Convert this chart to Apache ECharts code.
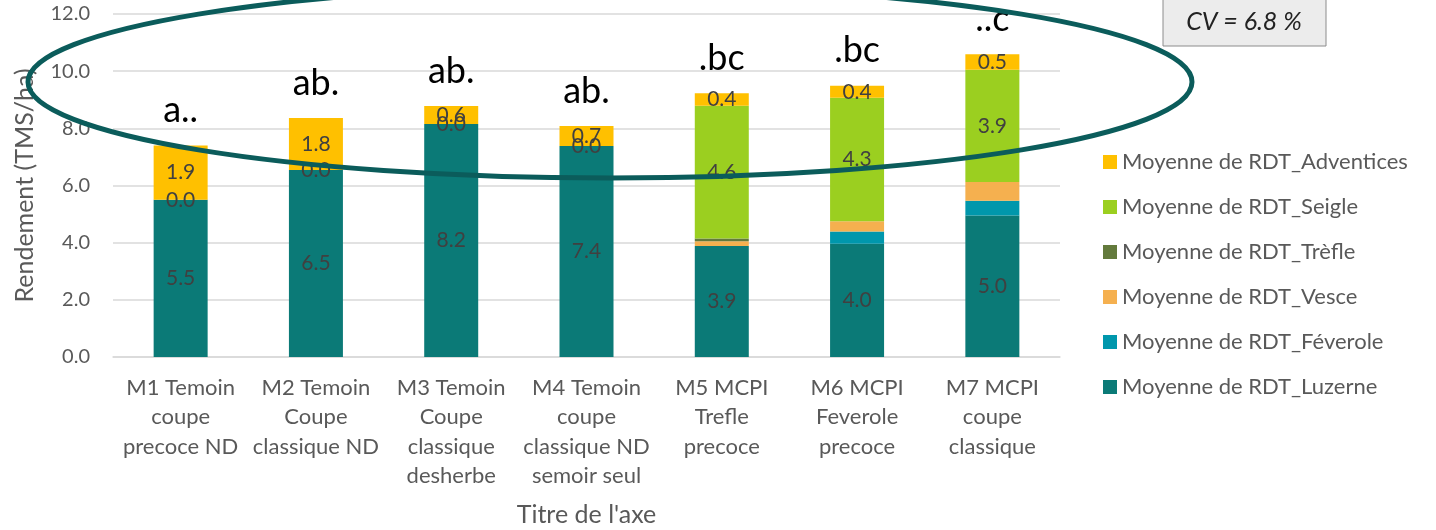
<!DOCTYPE html>
<html>
<head>
<meta charset="utf-8">
<script src="https://cdn.jsdelivr.net/npm/echarts@6/dist/echarts.min.js"></script>
<style>
html,body{margin:0;padding:0;background:#fff;}
#chart{width:1436px;height:530px;}
</style>
</head>
<body>
<div id="chart"></div>
<script>
var categories = ['M1 Temoin\ncoupe\nprecoce ND', 'M2 Temoin\nCoupe\nclassique ND', 'M3 Temoin\nCoupe\nclassique\ndesherbe', 'M4 Temoin\ncoupe\nclassique ND\nsemoir seul', 'M5 MCPI\nTrefle\nprecoce', 'M6 MCPI\nFeverole\nprecoce', 'M7 MCPI\ncoupe\nclassique'];
var luzerne    = [5.5, 6.54, 8.15, 7.38, 3.88, 3.96, 4.95];
var feverole   = [null, null, null, null, null, 0.43, 0.52];
var vesce      = [null, null, null, null, 0.17, 0.36, 0.65];
var trefle     = [null, null, null, null, 0.10, null, null];
var seigle     = [0, 0, 0, 0, 4.64, 4.32, 3.93];
var adventices = [1.9, 1.82, 0.63, 0.7, 0.44, 0.42, 0.54];
var letters    = ['a..', 'ab.', 'ab.', 'ab.', '.bc', '.bc', '..c'];
var yTicks     = [0, 2, 4, 6, 8, 10, 12];
var cvText     = 'CV = 6.8 %';

var FONT = 'Lato';
var lblStyle = {show: true, position: 'inside', color: '#404040', fontSize: 21, fontFamily: FONT,
  formatter: function (p) { return p.value == null ? '' : Number(p.value).toFixed(1); }};

function barSeries(name, data, color, label) {
  return {
    name: name, type: 'bar', stack: 'total', data: data, barWidth: 54,
    itemStyle: {color: color},
    label: label ? lblStyle : {show: false},
    emphasis: {disabled: true}
  };
}

var series = [
  barSeries('Moyenne de RDT_Luzerne', luzerne, '#0b7a77', true),
  barSeries('Moyenne de RDT_Féverole', feverole, '#0097ac', false),
  barSeries('Moyenne de RDT_Vesce', vesce, '#f5b04f', false),
  barSeries('Moyenne de RDT_Trèfle', trefle, '#637a3c', false),
  barSeries('Moyenne de RDT_Seigle', seigle, '#9bcf20', true),
  barSeries('Moyenne de RDT_Adventices', adventices, '#ffc000', true)
];
// significance letters above the stacks
series.push({
  name: 'letters', type: 'bar', stack: 'total', barWidth: 54,
  data: adventices.map(function () { return 0; }),
  itemStyle: {color: 'transparent'},
  label: {show: true, position: 'top', distance: 17, color: '#000', fontSize: 36, lineHeight: 36, fontFamily: FONT,
    formatter: function (p) { return letters[p.dataIndex]; }},
  emphasis: {disabled: true}, legendHoverLink: false
});

var chart = echarts.init(document.getElementById('chart'), null, {renderer: 'canvas'});
chart.setOption({
  animation: false,
  grid: {left: 113, right: 376, top: 14, bottom: 173, containLabel: false, outerBoundsMode: 'none'},
  legend: {
    orient: 'vertical', left: 1098, top: 146, itemWidth: 14, itemHeight: 14, itemGap: 23,
    icon: 'rect',
    textStyle: {color: '#595959', fontSize: 22, fontFamily: FONT, lineHeight: 22},
    data: ['Moyenne de RDT_Adventices', 'Moyenne de RDT_Seigle', 'Moyenne de RDT_Trèfle',
           'Moyenne de RDT_Vesce', 'Moyenne de RDT_Féverole', 'Moyenne de RDT_Luzerne']
  },
  xAxis: {
    type: 'category', data: categories,
    name: "Titre de l'axe", nameLocation: 'middle', nameGap: 145,
    nameTextStyle: {color: '#595959', fontSize: 25, fontFamily: FONT},
    axisLine: {lineStyle: {color: '#d9d9d9', width: 1.5}},
    axisTick: {show: false},
    axisLabel: {color: '#595959', fontSize: 22, fontFamily: FONT, lineHeight: 29.5, margin: 16, interval: 0}
  },
  yAxis: {
    type: 'value', min: yTicks[0], max: yTicks[yTicks.length - 1], interval: 2,
    name: 'Rendement (TMS/ha)', nameLocation: 'middle', nameGap: 76,
    nameTextStyle: {color: '#595959', fontSize: 25, fontFamily: FONT},
    axisLine: {show: false}, axisTick: {show: false},
    axisLabel: {color: '#595959', fontSize: 20, fontFamily: FONT, margin: 23,
      formatter: function (v) { return v.toFixed(1); }},
    splitLine: {lineStyle: {color: '#d9d9d9', width: 1.5}}
  },
  series: series,
  graphic: [
    {type: 'ellipse', z: 100, silent: true,
     shape: {cx: 610, cy: 82, rx: 582, ry: 96},
     style: {fill: 'none', stroke: '#0b5c5b', lineWidth: 5}},
    {type: 'rect', z: 100, silent: true,
     shape: {x: 1163, y: -5, width: 163, height: 51},
     style: {fill: '#ececec', stroke: '#8c8c8c', lineWidth: 1}},
    {type: 'text', z: 101, silent: true, x: 1244, y: 22,
     style: {text: cvText, fill: '#222', font: 'italic 25px Lato', textAlign: 'center', textVerticalAlign: 'middle'}}
  ]
});
</script>
</body>
</html>
